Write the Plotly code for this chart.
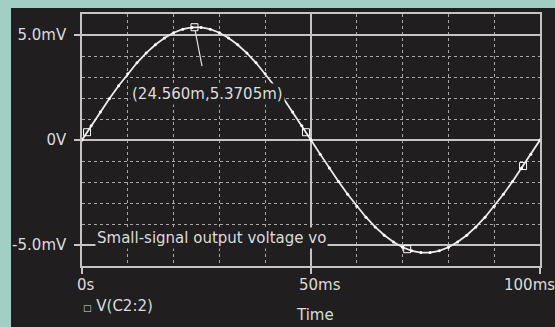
import plotly.graph_objects as go

# ---- data ----
time_ms = [0, 2, 4, 6, 8, 10, 12, 14, 16, 18, 20, 22, 24, 26, 28, 30, 32, 34, 36, 38,
           40, 42, 44, 46, 48, 50, 52, 54, 56, 58, 60, 62, 64, 66, 68, 70, 72, 74, 76, 78,
           80, 82, 84, 86, 88, 90, 92, 94, 96, 98, 100]
vo_mV = [0.0, 0.673, 1.336, 1.977, 2.587, 3.156, 3.676, 4.137, 4.534, 4.859, 5.107, 5.275,
         5.359, 5.359, 5.275, 5.107, 4.859, 4.534, 4.137, 3.676, 3.156, 2.587, 1.977, 1.336,
         0.673, 0.0, -0.673, -1.336, -1.977, -2.587, -3.156, -3.676, -4.137, -4.534, -4.859,
         -5.107, -5.275, -5.359, -5.359, -5.275, -5.107, -4.859, -4.534, -4.137, -3.676,
         -3.156, -2.587, -1.977, -1.336, -0.673, 0.0]
marker_t = [1.1, 24.56, 48.9, 71.0, 96.3]
marker_v = [0.37, 5.3705, 0.37, -5.2, -1.24]
y_tickvals = [-5, 0, 5]
y_ticktext = ["-5.0mV", "0V", "5.0mV"]
x_tickvals = [0, 50, 100]
x_ticktext = ["0s", "50ms", "100ms"]
cursor_label = "(24.560m,5.3705m)"
title_text = "Small-signal output voltage vo"
trace_name = "V(C2:2)"
x_title = "Time"

TEAL = "#a0d0c3"
DARK = "#201e1f"
GRID = "#c4c4c4"
DOT = "#a8a8a8"
TXT = "#dcdcdc"
FONT = "DejaVu Sans"

fig = go.Figure()
fig.add_trace(go.Scatter(x=time_ms, y=vo_mV, mode="lines+markers",
                         line=dict(color="#ececec", width=1.8),
                         marker=dict(size=3, color="#ffffff"),
                         showlegend=False, hoverinfo="skip"))
fig.add_trace(go.Scatter(x=marker_t, y=marker_v, mode="markers",
                         marker=dict(symbol="square-open", size=7, color="#ffffff",
                                     line=dict(width=1, color="#ffffff")),
                         name=trace_name, showlegend=False, cliponaxis=False))

annotations = []
# cursor readout
annotations.append(dict(x=marker_t[1], y=marker_v[1], xref="x", yref="y",
                        text=cursor_label, showarrow=True, arrowhead=0,
                        arrowcolor="#e0e0e0", arrowwidth=1.2,
                        ax=13, ay=67, standoff=3, startstandoff=18,
                        bgcolor=DARK, font=dict(family=FONT, size=15, color=TXT)))
# title text inside plot
annotations.append(dict(x=0.028, y=-4.69, xref="x domain", yref="y",
                        text=title_text, showarrow=False, xanchor="left",
                        yanchor="middle", bgcolor=DARK,
                        font=dict(family=FONT, size=15, color=TXT)))
# x tick labels
shifts = [-7, -14, -38]
for v, t, s in zip(x_tickvals, x_ticktext, shifts):
    annotations.append(dict(x=v, y=0, xref="x", yref="y domain", text=t,
                            showarrow=False, xanchor="left", yanchor="middle",
                            xshift=s, yshift=-19,
                            font=dict(family=FONT, size=15, color=TXT)))
# x axis title
annotations.append(dict(x=0.5, y=0, xref="x domain", yref="y domain", text=x_title,
                        showarrow=False, xanchor="center", yanchor="middle",
                        xshift=4, yshift=-49,
                        font=dict(family=FONT, size=15, color=TXT)))
# legend-like label
annotations.append(dict(x=0, y=0, xref="x domain", yref="y domain",
                        text="<span style='font-size:9px'>□</span> " + trace_name,
                        showarrow=False, xanchor="left", yanchor="middle",
                        xshift=-1, yshift=-40,
                        font=dict(family=FONT, size=15, color=TXT)))

fig.update_layout(
    width=555, height=327,
    margin=dict(l=82, r=15, t=12, b=61),
    paper_bgcolor=TEAL, plot_bgcolor=DARK,
    annotations=annotations,
    shapes=[dict(type="rect", xref="paper", yref="paper",
                 x0=-0.155, x1=1.05, y0=-0.26, y1=1.0236,
                 fillcolor=DARK, line=dict(width=0), layer="below")],
    font=dict(family=FONT, size=15, color=TXT),
)
fig.update_xaxes(range=[0, 100], tickvals=x_tickvals, showticklabels=False,
                 ticks="outside", ticklen=6, tickcolor=GRID, tickwidth=1.5,
                 showgrid=True, gridcolor=GRID, gridwidth=1.5,
                 minor=dict(dtick=10, showgrid=True, griddash="dot",
                            gridcolor=DOT, gridwidth=1.2, ticks=""),
                 showline=True, mirror=True, linecolor=GRID, linewidth=1.5,
                 zeroline=False, fixedrange=True)
fig.update_yaxes(range=[-6, 6], tickvals=y_tickvals, ticktext=y_ticktext,
                 ticks="outside", ticklen=6, tickcolor=GRID, tickwidth=1.5,
                 ticklabelstandoff=5,
                 tickfont=dict(family=FONT, size=15, color=TXT),
                 showgrid=True, gridcolor=GRID, gridwidth=1.5,
                 minor=dict(dtick=1, showgrid=True, griddash="dot",
                            gridcolor=DOT, gridwidth=1.2, ticks=""),
                 showline=True, mirror=True, linecolor=GRID, linewidth=1.5,
                 zeroline=False, fixedrange=True)

page_js = ("document.documentElement.style.margin='0';"
           "document.body.style.margin='0';"
           "document.body.style.overflow='hidden';"
           "document.body.style.background='" + TEAL + "';")
fig.write_html("out.html", post_script=page_js, config={"displayModeBar": False})
